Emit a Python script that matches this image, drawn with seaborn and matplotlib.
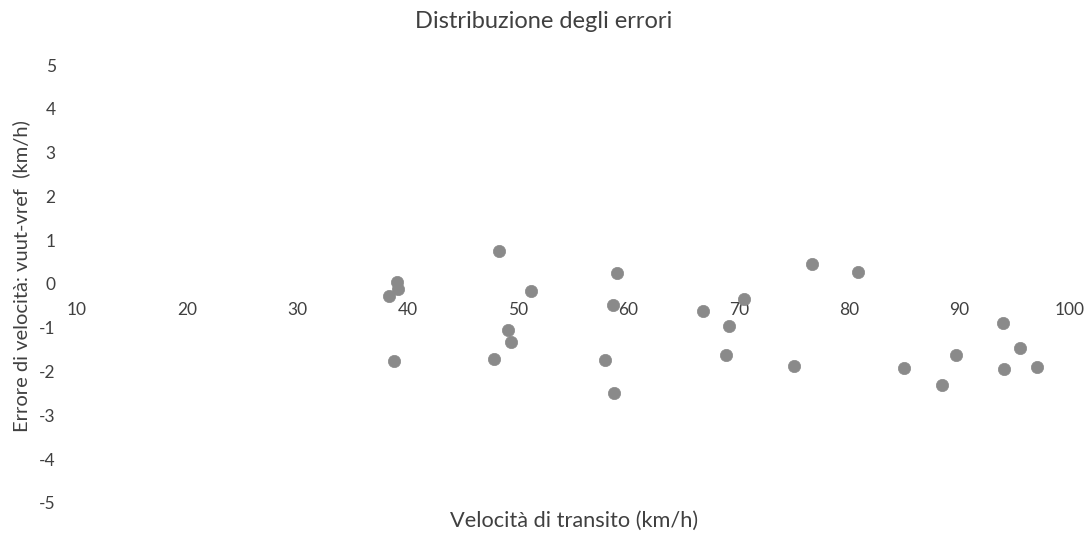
import matplotlib
matplotlib.use("Agg")
import matplotlib.pyplot as plt
import seaborn as sns
import pandas as pd

speed = [38.3, 39.0, 39.1, 38.8, 48.3, 47.8, 49.1, 49.4, 51.2,
         59.0, 58.6, 57.9, 58.7, 66.8, 70.5, 69.1, 68.8, 76.6, 75.0,
         80.8, 85.0, 88.4, 89.7, 93.9, 95.5, 94.0, 97.0]
error = [-0.27, 0.04, -0.12, -1.76, 0.76, -1.72, -1.05, -1.33, -0.16,
         0.24, -0.47, -1.74, -2.49, -0.62, -0.35, -0.96, -1.61, 0.46, -1.87,
         0.28, -1.92, -2.31, -1.61, -0.88, -1.46, -1.94, -1.89]
x_ticks = [10, 20, 30, 40, 50, 60, 70, 80, 90, 100]
y_ticks = [5, 4, 3, 2, 1, 0, -1, -2, -3, -4, -5]

title = "Distribuzione degli errori"
xlabel = "Velocità di transito (km/h)"
ylabel = "Errore di velocità: vuut-vref  (km/h)"

df = pd.DataFrame({"speed": speed, "error": error})

sns.set_theme(style="white")
plt.rcParams["font.family"] = ["Lato", "DejaVu Sans"]
txt = "#404040"

fig = plt.figure(figsize=(10.91, 5.36), dpi=100)
ax = fig.add_axes([0.0701, 0.0616, 0.9106, 0.8171])

sns.scatterplot(data=df, x="speed", y="error", ax=ax, s=78,
                color="#8a8a8a", edgecolor="#8a8a8a", linewidth=0.5, zorder=3)

ax.set_xlim(10, 100)
ax.set_ylim(-5, 5)
ax.set_xticks(x_ticks)
ax.set_yticks(y_ticks)
ax.set_xticklabels([str(v) for v in x_ticks])
ax.set_yticklabels([str(v) for v in y_ticks])

for s in ["top", "right", "left"]:
    ax.spines[s].set_visible(False)
ax.spines["bottom"].set_position(("data", 0))
ax.spines["bottom"].set_visible(False)

ax.tick_params(axis="x", length=0, pad=13, labelsize=12.5, labelcolor=txt)
ax.tick_params(axis="y", length=0, pad=15, labelsize=12.5, labelcolor=txt)

ax.set_xlabel("")
ax.set_ylabel("")
fig.text(0.498, 0.959, title, ha="center", va="center", fontsize=17, color=txt)
fig.text(0.526, 0.029, xlabel, ha="center", va="center", fontsize=15.7, color=txt)
fig.text(0.019, 0.485, ylabel, ha="center", va="center", rotation=90, fontsize=14.5, color=txt)

fig.savefig("out.png", dpi=100, facecolor="white")
